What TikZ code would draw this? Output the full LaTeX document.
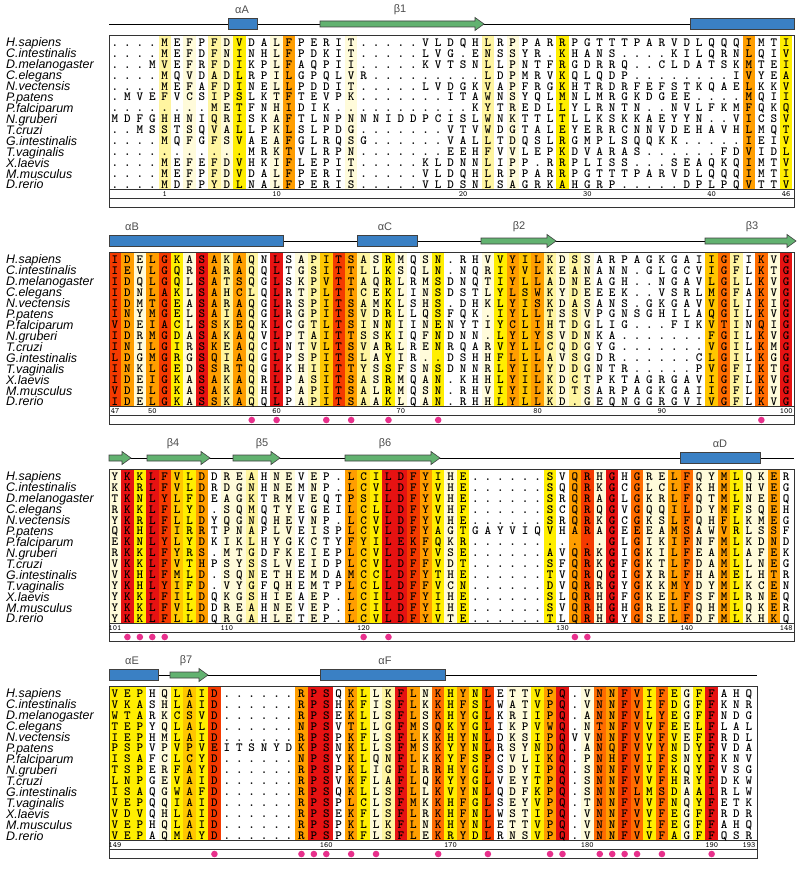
\documentclass[tikz,border=0pt]{standalone}
\usepackage{fontspec}
\newfontfamily\namefont{Liberation Sans}

% shading levels of the alignment columns
\definecolor{lev0}{RGB}{255,255,255}
\definecolor{lev1}{RGB}{255,251,218}
\definecolor{lev2}{RGB}{255,245,160}
\definecolor{lev3}{RGB}{255,238,0}
\definecolor{lev4}{RGB}{255,198,0}
\definecolor{lev5}{RGB}{255,158,0}
\definecolor{lev6}{RGB}{255,108,0}
\definecolor{lev7}{RGB}{244,58,0}
\definecolor{lev8}{RGB}{230,18,18}
\definecolor{helixblue}{RGB}{58,128,196}
\definecolor{strandgreen}{RGB}{98,178,112}
\definecolor{sitepink}{RGB}{232,48,140}

% one aligned row: residues placed column by column
\makeatletter
\newcount\res@col
\newcommand\resrow[3]{%
  \pgfmathsetmacro\res@y{46.3+10.93*#1}%
  \def\res@pre{#2}\res@col=0\relax
  \res@next#3\relax}
\def\res@next#1{%
  \ifx#1\relax\else
    \node[res] (\res@pre-\the\res@col) at ({\colx+\the\res@col*\colw},\res@y) {#1};%
    \advance\res@col\@ne
    \expandafter\res@next
  \fi}
\makeatother

\begin{document}
\begin{tikzpicture}[
    x=1pt, y=-1pt,
    res/.style={font=\ttfamily\bfseries\fontsize{12.5}{12.5}\selectfont, inner sep=0pt, anchor=base},
    spname/.style={font=\namefont\itshape\fontsize{12.4}{12.4}\selectfont, inner sep=0pt, anchor=base west},
    num/.style={font=\ttfamily\fontsize{8}{8}\selectfont, inner sep=0pt},
    sslab/.style={font=\namefont\fontsize{11}{11}\selectfont, text=black!70, inner sep=0pt},
    helix/.style={fill=helixblue, draw=black!75, line width=0.6pt},
    strand/.style={fill=strandgreen, draw=black!75, line width=0.6pt},
    frame/.style={draw=black!80, line width=0.8pt},
    site/.style={fill=sitepink}
]

\useasboundingbox (0,0) rectangle (800,869);

% Parameters
\def\colx{115}
\def\colw{12.43}
\def\boxl{109}

% === Species names (same in every block) ===
\foreach \blk/\Y in {1/0,2/217,3/434,4/651} {
  \foreach \sp [count=\i from 0] in {H.sapiens,C.intestinalis,D.melanogaster,C.elegans,N.vectensis,P.patens,P.falciparum,N.gruberi,T.cruzi,G.intestinalis,T.vaginalis,X.laevis,M.musculus,D.rerio}
    \node[spname] (sp\blk-\i) at (6,{\Y+46.9+10.93*\i}) {\sp};
}

% === Block 1 ===
\begin{scope}
\def\boxr{794}
% column shading
\foreach \lv [count=\c from 0] in {0,0,0,0,2,0,1,0,2,1,3,0,0,1,5,0,0,0,0,1,0,0,0,0,0,0,0,0,0,0,2,0,1,0,0,0,3,0,0,0,0,0,0,0,0,0,0,0,0,0,0,5,0,0,3} {
  \fill[lev\lv] ({\colx+(\c-0.5)*\colw},35) rectangle ({\colx+(\c+0.5)*\colw},189.5);
}
\draw[frame] (\boxl,35) rectangle (\boxr,189.5);
\draw[frame] (\boxl,189.5) rectangle (\boxr,198.5);
\draw[frame] (\boxl,198.5) rectangle (\boxr,207.5);
% secondary structure
\draw[line width=0.8pt] (\boxl,24) -- (\boxr,24);
\draw[helix] (228,18.5) rectangle (257,29.5);
\draw[helix] (690,18.5) rectangle (\boxr,29.5);
\foreach \xa/\xb in {320/484} {
  \draw[strand] (\xa,21) -- ({\xb-9},21) -- ({\xb-9},17.5) -- (\xb,24) -- ({\xb-9},30.5) -- ({\xb-9},27) -- (\xa,27) -- cycle;
}
\node[sslab] (ssA) at (242,10) {αA};
\node[sslab] (ss1) at (400,10) {β1};
% residues
\resrow{0}{b1r0}{....MEFPFDVDALFPERIT.....VLDQHLRPPARRPGTTTPARVDLQQQIMTI}
\resrow{1}{b1r1}{....MEFDFNINHLFPDKIT.....LVG.ENSSYR.KHANS....KILQRNLQIV}
\resrow{2}{b1r2}{...MVEFRFDIKPLFAQPII.....KVTSNLLPNTFRGDRRQ..CLDATSKMTEI}
\resrow{3}{b1r3}{....MQVDADLRPILGPQLVR.........LDPMRVKQLQDP........IVYEA}
\resrow{4}{b1r4}{....MEFAFDINELLPDDIT.....LVDGKVAPFRGKHTRDRFEFSTKQAELKKV}
\resrow{5}{b1r5}{.MVEFVCSIPSLKTFTEVPK.......ITAWNSYQLMNLMRGKDGEE....MQII}
\resrow{6}{b1r6}{........METFNHIDIK...........KYTREDLLYLRNTN..NVLFKMFQKQ}
\resrow{7}{b1r7}{MDFGHHNIQRISKAFTLNPNNNIDDPCISLWNKTTLTLLKSKKAEYYN..VICSV}
\resrow{8}{b1r8}{..MSSTSQVALLPKLSLPDG.......VTVWDGTALEYERRCNNVDEHAVHLMQT}
\resrow{9}{b1r9}{....MQFGFSVAEAFGLRQSG......VALLTDQSLRGMPLSQQKK.....IEIV}
\resrow{10}{b1r10}{...........MRKTVLRPN.......EEHFVVLEPKDVARAS......FDVIDL}
\resrow{11}{b1r11}{....MEFEFDVHKIFLEPIT.....KLDNNLIPP.RRPLISS...SEAQKQIMTV}
\resrow{12}{b1r12}{....MEFPFDVDALFPERIT.....VLDQHLRPPARRPGTTTPARVDLQQQIMTI}
\resrow{13}{b1r13}{....MDFPYDLNALFPERIS.....VLDSNLSAGRKAHGRP.....DPLPQVTTV}
% numbering
\foreach \c/\t in {4/1,13/10,28/20,38/30,48/40,54/46}
  \node[num] (n1-\t) at ({\colx+\c*\colw},194) {\t};
\end{scope}

% === Block 2 ===
\begin{scope}[shift={(0,217)}]
\def\boxr{794}
\foreach \lv [count=\c from 0] in {7,5,1,5,7,3,1,8,5,2,5,2,0,8,0,1,2,4,7,5,2,1,3,1,0,1,3,0,0,0,1,3,5,4,5,2,1,2,1,0,0,0,0,0,0,0,0,0,4,6,2,0,6,1,8} {
  \fill[lev\lv] ({\colx+(\c-0.5)*\colw},35) rectangle ({\colx+(\c+0.5)*\colw},189.5);
}
\draw[frame] (\boxl,35) rectangle (\boxr,189.5);
\draw[frame] (\boxl,189.5) rectangle (\boxr,198.5);
\draw[frame] (\boxl,198.5) rectangle (\boxr,207.5);
\draw[line width=0.8pt] (\boxl,24) -- (\boxr,24);
\draw[helix] (\boxl,18.5) rectangle (283,29.5);
\draw[helix] (357,18.5) rectangle (417,29.5);
\foreach \xa/\xb in {481/556,705/796} {
  \draw[strand] (\xa,21) -- ({\xb-9},21) -- ({\xb-9},17.5) -- (\xb,24) -- ({\xb-9},30.5) -- ({\xb-9},27) -- (\xa,27) -- cycle;
}
\node[sslab] (ssB) at (132,10) {αB};
\node[sslab] (ssC) at (385,10) {αC};
\node[sslab] (ss2) at (519,10) {β2};
\node[sslab] (ss3) at (752,10) {β3};
\resrow{0}{b2r0}{IDELGKASAKAQNLSAPITSASRMQSN.RHVVYILKDSSARPAGKGAIIGFIKVG}
\resrow{1}{b2r1}{IEVLGQRSARAQQLTGSITTLLKSQLN.NQRIYVLKEANANN.GLGCVIGFLKTG}
\resrow{2}{b2r2}{IDQLGQLSATSQGLSKPVTTAQRLRMSDNQTIYLLADNEAGH..NGAVLGLLKVG}
\resrow{3}{b2r3}{IDNLAKLSAHCLQLRTPLTTCEKLINSDSTLYLSWKYDEEEK..VSRLMGFAKVG}
\resrow{4}{b2r4}{IDMTGEASARAQGLRSPITSAMKLSHS.DHKLYISKDASANS.GKGAVVGLIKIG}
\resrow{5}{b2r5}{INYMGELSAIAQGLRGPITSVDRLLQSFQK.IYLLTSSVPGNSGHILAQGILKVG}
\resrow{6}{b2r6}{VDEIACLSSKEQKLCGTLTSINNIINENYTIYCLIHTDGLIG...FIKVTINQIG}
\resrow{7}{b2r7}{IDRMGDASAKAQVLPTAITTSSKIQFNDNN.LYLYSVDNKA.......FGILKVG}
\resrow{8}{b2r8}{INILGIRSKEAQCLNTVLTSVARLRENRQARVYLLCQDGYG.......VGILKMG}
\resrow{9}{b2r9}{LDGMGRGSQIAQGLPSPITSLAYIR..DSHHFLLLAVSGDR......CLGILKGG}
\resrow{10}{b2r10}{INKLGEDSSRTQGLKHIITTYSSFSNSDNNRLYILYDDGNTR.....PVGFIKTG}
\resrow{11}{b2r11}{IDEIGKASAKAQRLPASITSASRMQAN.KHHLYILKDCTPKTAGRGAVIGFLKVG}
\resrow{12}{b2r12}{VDELGKASAKAQHLPAPITSALRMQSN.RHVIYILKDTSARPAGKGAIIGFLKVG}
\resrow{13}{b2r13}{IDELGKASSKAQQLPAPITSAAKLQAN.RHHLYLLKD.GEQNGGRGVIVGFLKVG}
\foreach \c/\t in {0/47,3/50,13/60,23/70,34/80,44/90,54/100}
  \node[num] (n2-\t) at ({\colx+\c*\colw},194) {\t};
\foreach \c in {11,13,17,19,22,26,52}
  \fill[site] ({\colx+\c*\colw},203) circle (3.3);
\end{scope}

% === Block 3 ===
\begin{scope}[shift={(0,434)}]
\def\boxr{794}
\foreach \lv [count=\c from 0] in {1,8,3,8,7,4,3,5,0,1,1,2,0,1,1,0,1,0,0,5,4,3,8,8,7,5,3,1,3,0,0,0,0,0,0,3,0,5,7,1,8,0,6,1,1,5,6,1,1,5,3,1,1,5,0} {
  \fill[lev\lv] ({\colx+(\c-0.5)*\colw},35) rectangle ({\colx+(\c+0.5)*\colw},189.5);
}
\draw[frame] (\boxl,35) rectangle (\boxr,189.5);
\draw[frame] (\boxl,189.5) rectangle (\boxr,198.5);
\draw[frame] (\boxl,198.5) rectangle (\boxr,207.5);
\draw[line width=0.8pt] (\boxl,24) -- (\boxr,24);
\foreach \xa/\xb in {109/131,147/210,233/280,345/440} {
  \draw[strand] (\xa,21) -- ({\xb-9},21) -- ({\xb-9},17.5) -- (\xb,24) -- ({\xb-9},30.5) -- ({\xb-9},27) -- (\xa,27) -- cycle;
}
\draw[helix] (680,18.5) rectangle (760,29.5);
\node[sslab] (ss4) at (173,10) {β4};
\node[sslab] (ss5) at (262,10) {β5};
\node[sslab] (ss6) at (385,10) {β6};
\node[sslab] (ssD) at (720,10) {αD};
\resrow{0}{b3r0}{YKKLFVLDDREAHNEVEP.LCILDFYIHE......SVQRHGHGRELFQYMLQKER}
\resrow{1}{b3r1}{KKRLFVLDRDGNHNEMNP.LCVLDFYVHE......SQQRKGCGLCLFKHMLHVEG}
\resrow{2}{b3r2}{TKNLYLFDEAGKTRMVEQTPSILDFYVHE......SRQRAGLGKRLFQTMLNEEQ}
\resrow{3}{b3r3}{RKKLFLYD.SQMQTYEGEILCLLDFYVHF......SCQRQGVGQQILDYMFSQEH}
\resrow{4}{b3r4}{YKRLFLLDYQGNQHEVNP.LCVLDFYVHE......SRQRKGCGKSLFQHFLKMEG}
\resrow{5}{b3r5}{QKHLFIRRTPNAPLVEISPLCVLDFYAGTGAYVIQVHARAGEEEAMSAWVRLSSF}
\resrow{6}{b3r6}{EKNLYLYDKIKLHYGKCTYFYILEKFQKR...........GLGIKIFNFMLKDND}
\resrow{7}{b3r7}{RKKLFYRS.MTGDFKEIEPLCVLDFYVSE......AVQRKGIGKILFEAMLAFEK}
\resrow{8}{b3r8}{VKKLFVTHPSYSSLVEIDPLCVLDFFVDT......SFQRKGFGKTLFDAMLLNEG}
\resrow{9}{b3r9}{VKHLFMLD.SQNETHEMDAMCCLDFYTHE......TVQRQGIGXRLFHAMELHTR}
\resrow{10}{b3r10}{YKHLYIFD.VYGFQHEMTPLCLLDFFVCN......DVQRRGYGKKMYDYMLKCEN}
\resrow{11}{b3r11}{YKKLFILDQKGSHIEAEP.LCILDFYIHE......SLQRHGFGKELFSFMLRNEQ}
\resrow{12}{b3r12}{YKKLFVLDDREAHNEVEP.LCILDFYIHE......SVQRHGHGRELFQHMLQKER}
\resrow{13}{b3r13}{YKKLFLLDQRGAHLETEP.LCVLDFYVTE......TLQRHGYGSELFDFMLKHKQ}
\foreach \c/\t in {0/101,9/110,20/120,36/130,46/140,54/148}
  \node[num] (n3-\t) at ({\colx+\c*\colw},194) {\t};
\foreach \c in {1,2,3,4,20,22,37,38}
  \fill[site] ({\colx+\c*\colw},203) circle (3.3);
\end{scope}

% === Block 4 ===
\begin{scope}[shift={(0,651)}]
\def\boxr{757}
\foreach \lv [count=\c from 0] in {3,3,3,0,1,3,4,3,7,0,0,0,0,0,0,5,8,8,0,5,3,1,2,8,5,1,6,3,5,3,7,0,1,1,3,5,8,0,1,6,5,7,6,3,6,3,1,3,8,0,0,0} {
  \fill[lev\lv] ({\colx+(\c-0.5)*\colw},35) rectangle ({\colx+(\c+0.5)*\colw},189.5);
}
\draw[frame] (\boxl,35) rectangle (\boxr,189.5);
\draw[frame] (\boxl,189.5) rectangle (\boxr,198.5);
\draw[frame] (\boxl,198.5) rectangle (\boxr,207.5);
\draw[line width=0.8pt] (\boxl,24) -- (\boxr,24);
\draw[helix] (\boxl,18.5) rectangle (158,29.5);
\draw[helix] (320,18.5) rectangle (445,29.5);
\foreach \xa/\xb in {170/208} {
  \draw[strand] (\xa,21) -- ({\xb-9},21) -- ({\xb-9},17.5) -- (\xb,24) -- ({\xb-9},30.5) -- ({\xb-9},27) -- (\xa,27) -- cycle;
}
\node[sslab] (ssE) at (132,10) {αE};
\node[sslab] (ss7) at (186,10) {β7};
\node[sslab] (ssF) at (385,10) {αF};
\resrow{0}{b4r0}{VEPHQLAID......RPSQKLLKFLNKHYNLETTVPQ.VNNFVIFEGFFAHQ}
\resrow{1}{b4r1}{VKASHLAID......RPSHKFISFLKKHFSLWATVPQ.VNNFVIFDGFFKNR}
\resrow{2}{b4r2}{WTARKCSVD......RPSEKLLSFLSKHYGLKRIIPQ.ANNFVLYEGFFNDG}
\resrow{3}{b4r3}{TEPYQLALD......NPSVTLLGFMSQKYGLIKPVWQ.NTNFVVFEELFLAL}
\resrow{4}{b4r4}{IEPHMLAID......RPSPKFLSFLKKHYNLDKSIPQVVNNFVVFVEFFRDL}
\resrow{5}{b4r5}{PSPVPVPVEITSNYDKPSNKLLSFMSKYYNLRSYNDQ.ANQFVVYNDYFVDA}
\resrow{6}{b4r6}{ISAFCLCYD......NPSYKLQNFLKKYFSPCVLIKQ.PNHFVIFSNYFKNV}
\resrow{7}{b4r7}{TSPERFAYD......RPSPKLIGFLRRHYGLSDYIPQ.SNNFVVFKQYFVSG}
\resrow{8}{b4r8}{LNPGEVAID......RPSVKFLAFLQKYYGLVEYTPQ.SNNFVVFHRYFDKW}
\resrow{9}{b4r9}{ISAQGWAFD......RPSQKLLSFLLKVYNLQDFKPQ.SNNFLMSDAAIRLW}
\resrow{10}{b4r10}{VEPQQIAID......RPSPLCLSFMKKHFGLSEYVPQ.TNNFVVFNQYFETK}
\resrow{11}{b4r11}{VDVQHLAID......RPSEKFLSFLRKHFNLWSTIPQ.VNNFVVFEGFFRDR}
\resrow{12}{b4r12}{VEPHQLAID......RPSPKLLKFLNKHYNLETTVPQ.VNNFVIFEGFFAHQ}
\resrow{13}{b4r13}{VEPAQMAYD......RPSPKFLSFLEKRYDLRNSVPQ.VNNFVVFAGFFQSR}
\foreach \c/\t in {0/149,17/160,27/170,38/180,48/190,51/193}
  \node[num] (n4-\t) at ({\colx+\c*\colw},194) {\t};
\foreach \c in {8,15,16,17,19,21,26,30,35,36,39,40,41,42,44,48}
  \fill[site] ({\colx+\c*\colw},203) circle (3.3);
\end{scope}

\end{tikzpicture}
\end{document}
